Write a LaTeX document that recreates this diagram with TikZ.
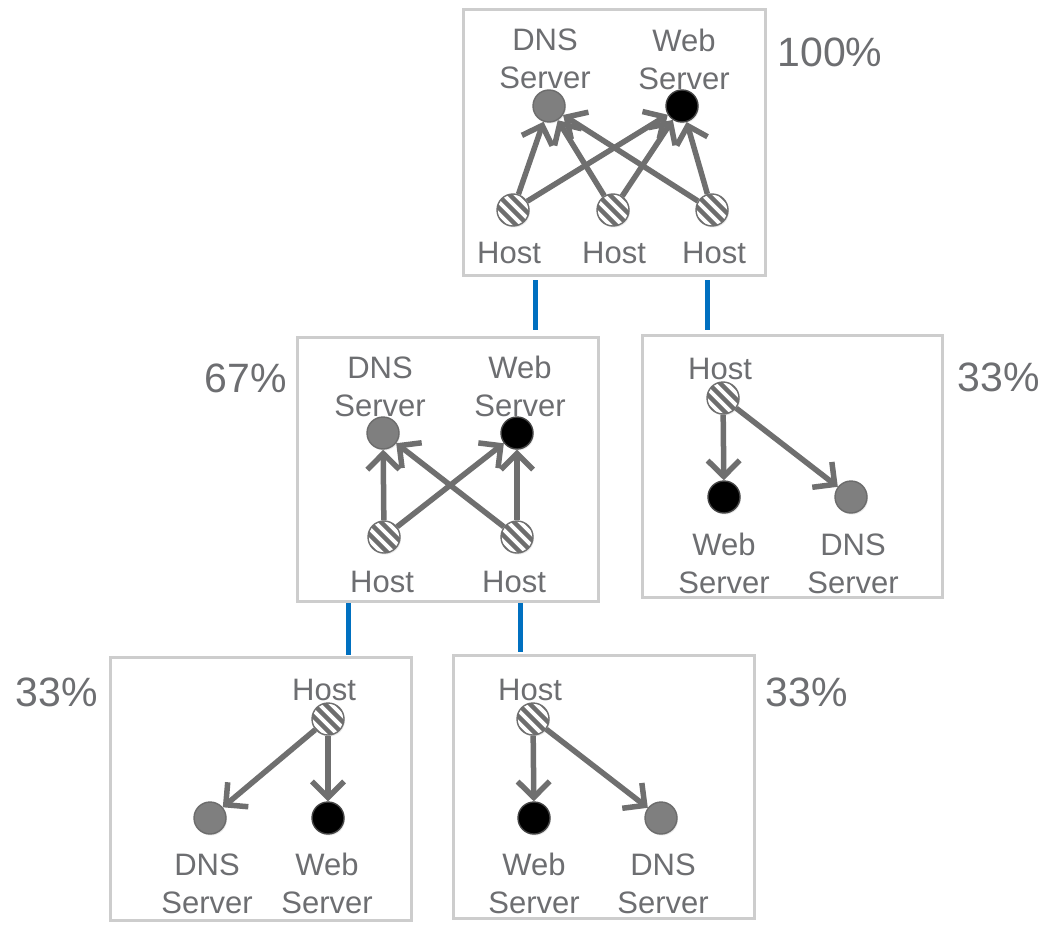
\documentclass[tikz,border=0pt]{standalone}
\usepackage{fontspec}
\setmainfont{Liberation Sans}
\usetikzlibrary{arrows.meta,shadows}

\definecolor{txtgray}{HTML}{6D6E71}
\definecolor{arrgray}{HTML}{6F6F6F}
\definecolor{boxgray}{HTML}{CDCDCD}
\definecolor{linkblue}{HTML}{0070C0}
\definecolor{dnsfill}{HTML}{7F7F7F}
\definecolor{stripecol}{HTML}{6E6E6E}

\tikzset{
  panel/.style={draw=boxgray, line width=3pt, fill=white, inner sep=0pt,
    drop shadow={opacity=0.15, shadow xshift=1.5pt, shadow yshift=-2pt}},
  dot/.style={circle, minimum size=32pt, inner sep=0pt, line width=1.4pt,
    drop shadow={opacity=0.18, shadow xshift=1pt, shadow yshift=-1.5pt}},
  hostdot/.style={dot, draw=arrgray, fill=white,
    path picture={\foreach \d in {-36,-24,...,36}
      \draw[stripecol, line width=4.5pt, shift={(path picture bounding box.center)}]
        (\d-20,-20) -- (\d+20,20);}},
  dnsdot/.style={dot, draw=dnsfill!85!black, fill=dnsfill},
  webdot/.style={dot, draw=arrgray!60!black, fill=black},
  link/.style={draw=arrgray, line width=5.5pt,
    -{Straight Barb[length=16pt,width=32pt,line width=5.5pt]}},
  tree/.style={draw=linkblue, line width=5pt},
  lbl/.style={text=txtgray, font=\fontsize{31}{38}\selectfont, align=center, inner sep=0pt},
  pct/.style={text=txtgray, font=\fontsize{41}{48}\selectfont, inner sep=0pt}
}

\begin{document}
\begin{tikzpicture}[x=1pt,y=-1pt]
\useasboundingbox (0,0) rectangle (1048,925);

% ---------- panels ----------
\node[panel, minimum width=302pt, minimum height=265pt] (boxA) at (614,142.5) {};
\node[panel, minimum width=301pt, minimum height=264pt] (boxB) at (447.5,469) {};
\node[panel, minimum width=300pt, minimum height=262pt] (boxC) at (792,466) {};
\node[panel, minimum width=301pt, minimum height=263pt] (boxD) at (260.5,788.5) {};
\node[panel, minimum width=301pt, minimum height=263pt] (boxE) at (603.5,786.5) {};

% ---------- tree links ----------
\coordinate (a1) at (535,280); \coordinate (b1) at (535,330);
\coordinate (a2) at (707,280); \coordinate (c1) at (707,330);
\coordinate (b2) at (348,603); \coordinate (d1) at (348,655);
\coordinate (b3) at (520,603); \coordinate (e1) at (520,652);
\draw[tree] (a1) -- (b1);
\draw[tree] (a2) -- (c1);
\draw[tree] (b2) -- (d1);
\draw[tree] (b3) -- (e1);

% ---------- percentages ----------
\node[pct] (pA) at (830,52) {100\%};
\node[pct] (pB) at (246,378) {67\%};
\node[pct] (pC) at (999,377) {33\%};
\node[pct] (pD) at (57,692) {33\%};
\node[pct] (pE) at (807,692) {33\%};

% ---------- panel A: three hosts ----------
\node[dnsdot] (dnsA) at (549,106) {};
\node[webdot] (webA) at (682,106) {};
\node[hostdot] (hA1) at (513,210) {};
\node[hostdot] (hA2) at (613,210) {};
\node[hostdot] (hA3) at (712,210) {};
\node[lbl] (ldnsA) at (545,59) {DNS\\Server};
\node[lbl] (lwebA) at (684,59) {Web\\Server};
\node[lbl] (lhA1) at (509,253) {Host};
\node[lbl] (lhA2) at (614,253) {Host};
\node[lbl] (lhA3) at (714,253) {Host};
\foreach \h in {hA1,hA2,hA3} {
  \draw[link] (\h) -- (dnsA);
  \draw[link] (\h) -- (webA);
}

% ---------- panel B: two hosts ----------
\node[dnsdot] (dnsB) at (383,433) {};
\node[webdot] (webB) at (517,433) {};
\node[hostdot] (hB1) at (384,537) {};
\node[hostdot] (hB2) at (517,537) {};
\node[lbl] (ldnsB) at (380,386.5) {DNS\\Server};
\node[lbl] (lwebB) at (520,386.5) {Web\\Server};
\node[lbl] (lhB1) at (382,582) {Host};
\node[lbl] (lhB2) at (514,582) {Host};
\foreach \h in {hB1,hB2} {
  \draw[link] (\h) -- (dnsB);
  \draw[link] (\h) -- (webB);
}

% ---------- panel C ----------
\node[hostdot] (hC) at (723,398) {};
\node[webdot] (webC) at (724,497) {};
\node[dnsdot] (dnsC) at (851,497) {};
\node[lbl] (lhC) at (720,369) {Host};
\node[lbl] (lwebC) at (724,563.5) {Web\\Server};
\node[lbl] (ldnsC) at (853,563.5) {DNS\\Server};
\draw[link] (hC) -- (webC);
\draw[link] (hC) -- (dnsC);

% ---------- panel D ----------
\node[hostdot] (hD) at (328,719) {};
\node[dnsdot] (dnsD) at (210,818) {};
\node[webdot] (webD) at (328,818) {};
\node[lbl] (lhD) at (324,690) {Host};
\node[lbl] (ldnsD) at (207,883.5) {DNS\\Server};
\node[lbl] (lwebD) at (327,883.5) {Web\\Server};
\draw[link] (hD) -- (dnsD);
\draw[link] (hD) -- (webD);

% ---------- panel E ----------
\node[hostdot] (hE) at (533,719) {};
\node[webdot] (webE) at (534,818) {};
\node[dnsdot] (dnsE) at (661,818) {};
\node[lbl] (lhE) at (530,690) {Host};
\node[lbl] (lwebE) at (534,883.5) {Web\\Server};
\node[lbl] (ldnsE) at (663,883.5) {DNS\\Server};
\draw[link] (hE) -- (webE);
\draw[link] (hE) -- (dnsE);
\end{tikzpicture}
\end{document}
